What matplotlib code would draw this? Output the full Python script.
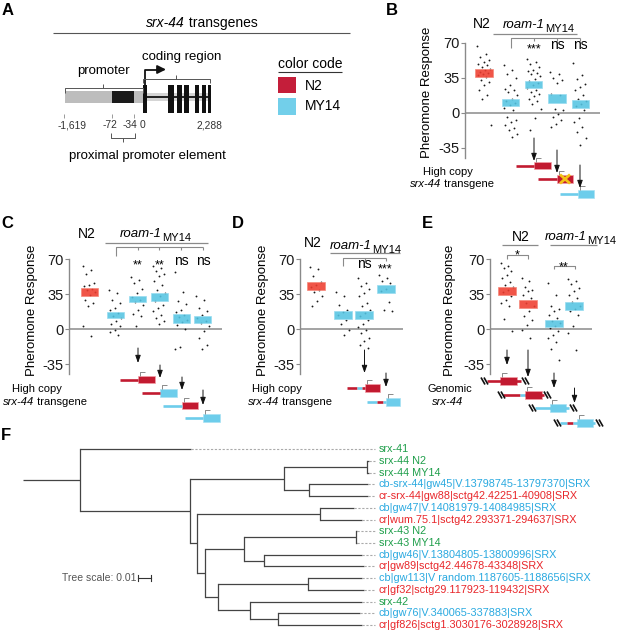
import matplotlib.pyplot as plt
from matplotlib.patches import Rectangle

plt.rcParams['font.family'] = ['Liberation Sans', 'DejaVu Sans']
plt.rcParams['axes.unicode_minus'] = False

# ---------------- data ----------------
# panel B
b_strains = ['N2', 'MY14', 'MY14', 'MY14', 'MY14']
b_means = [40, 10, 28, 14, 9]
b_sems = [4, 3.5, 3.3, 4.5, 4]
b_dots = [
    [67, 59, 56, 53, 51, 49, 48, 46, 44, 43, 41, 40, 39, 38, 36, 33, 31, 28, 23, 18, 14, -12],
    [48, 43, 39, 35, 28, 24, 23, 21, 18, 14, 12, 10, 8, 5, 3, -4, -7, -9, -12, -15, -17, -21, -24],
    [54, 51, 49, 46, 43, 42, 40, 39, 37, 34, 32, 30, 28, 25, 23, 21, 19, 17, 14, 12, 9, 4, -5, -17],
    [41, 39, 35, 33, 30, 19, 18, 4, 3, -1, -4, -7, -11, -14],
    [50, 38, 34, 29, 26, 23, 18, 14, 12, 9, 7, 3, -5, -9, -14, -19, -25, -32],
]
b_sig = ['', '', '***', 'ns', 'ns']

# panel C
c_strains = ['N2', 'MY14', 'MY14', 'MY14', 'MY14', 'MY14']
c_means = [37, 14, 30, 32, 10.5, 10]
c_sems = [4, 3, 3, 4, 4.5, 3.5]
c_dots = [
    [63, 59, 55, 46, 44, 43, 40, 39, 37, 34, 29, 26, 23, 3, -7],
    [39, 36, 29, 26, 21, 19, 16, 13, 11, 8, 5, 3, -1, -3, -6],
    [52, 49, 46, 40, 36, 32, 29, 27, 24, 19, 15, 13, 3],
    [63, 61, 58, 55, 53, 48, 44, 39, 36, 33, 28, 24, 21, 18, 14, 11, 8, 5],
    [57, 37, 28, 25, 19, 17, 14, 12, 9, 7, 4, 0, -18, -20],
    [33, 29, 21, 18, 14, 11, 8, 6, 3, -2, -9, -16, -20],
]
c_sig = ['', '', '**', '**', 'ns', 'ns']

# panel D
d_strains = ['N2', 'MY14', 'MY14', 'MY14']
d_means = [43, 14, 14, 40]
d_sems = [4, 4, 4, 4]
d_dots = [
    [62, 60, 53, 47, 44, 42, 39, 37, 33, 28, 23],
    [37, 33, 24, 19, 17, 14, 9, 5, -1, -6],
    [51, 46, 43, 40, 36, 33, 26, 23, 19, 16, 13, 9, 5, 2, -1, -4, -9, -12, -16, -19],
    [54, 51, 48, 46, 40, 38, 27, 19, 18],
]
d_sig = ['', '', 'ns', '***']

# panel E
e_strains = ['N2', 'N2', 'MY14', 'MY14']
e_means = [38, 25.5, 5.7, 23]
e_sems = [4, 4, 3.7, 4]
e_dots = [
    [66, 63, 61, 58, 54, 51, 47, 44, 42, 39, 37, 33, 29, 26, 23, 10, -2],
    [51, 48, 42, 39, 38, 34, 31, 26, 23, 18, 13, 9, 4, -1, -9],
    [46, 34, 23, 20, 18, 14, 11, 8, 6, 3, 1, -2, -6, -9, -13, -20, -31],
    [50, 48, 45, 41, 38, 34, 31, 27, 23, 20, 18, 14, 3, -4, -21],
]

# panel F tree (leaf ids in order, branch lengths in substitutions/site)
tree_newick = ("(0:0.0855,(((1:0.0012,2:0.0012):0.0640,(3:0.0452,4:0.0452):0.0194):0.0723,"
               "((5:0.0262,6:0.0323):0.0948,(((7:0.0009,8:0.0009):0.0862,(9:0.0754,10:0.0769):0.0154):0.0298,"
               "((11:0.0415,12:0.0431):0.0692,(13:0.0862,(14:0.0631,15:0.0646):0.0215):0.0246):0.0098)"
               ":0.0065):0.0052):0.0846):0.0437")
leaf_labels = ['srx-41', 'srx-44 N2', 'srx-44 MY14',
               'cb-srx-44|gw45|V.13798745-13797370|SRX', 'cr-srx-44|gw88|sctg42.42251-40908|SRX',
               'cb|gw47|V.14081979-14084985|SRX', 'cr|wum.75.1|sctg42.293371-294637|SRX',
               'srx-43 N2', 'srx-43 MY14',
               'cb|gw46|V.13804805-13800996|SRX', 'cr|gw89|sctg42.44678-43348|SRX',
               'cb|gw113|V random.1187605-1188656|SRX', 'cr|gf32|sctg29.117923-119432|SRX',
               'srx-42', 'cb|gw76|V.340065-337883|SRX', 'cr|gf826|sctg1.3030176-3028928|SRX']
leaf_species = ['ce', 'ce', 'ce', 'cb', 'cr', 'cb', 'cr', 'ce', 'ce', 'cb', 'cr', 'cb', 'cr', 'ce', 'cb', 'cr']

# ---------------- style ----------------
W, H = 617, 634
RED, CYAN = '#EE3D2F', '#55C4E2'
DRED, DCYAN = '#C21A30', '#6DCDEB'
GRAY = '#8a8a8a'
SPECIES_COL = {'ce': '#1E9E4A', 'cb': '#29A9E0', 'cr': '#E8262A'}

fig = plt.figure(figsize=(W / 100, H / 100), dpi=100)
ax0 = fig.add_axes([0, 0, 1, 1])
ax0.set_xlim(0, W)
ax0.set_ylim(H, 0)
ax0.set_axis_off()


def t(x, y, s, size=10, ha='center', va='baseline', **kw):
    ax0.text(x, y, s, fontsize=size, ha=ha, va=va, **kw)


def line(xs, ys, color='#666', lw=0.8, **kw):
    ax0.plot(xs, ys, color=color, lw=lw, solid_capstyle='butt', **kw)


def rect(x0, y0, x1, y1, color, **kw):
    ax0.add_patch(Rectangle((x0, y0), x1 - x0, y1 - y0, fc=color, ec='none', **kw))


def ital(x, y, it, rest, size):
    t(x, y, it, size, ha='right', style='italic')
    t(x, y, rest, size, ha='left')


def roam(x, y):
    t(x, y, 'roam-1', 9.5, ha='left', style='italic')
    t(x + 42, y + 4, 'MY14', 8, ha='left')


def down_arrow(x, y0, y1):
    ax0.annotate('', xy=(x, y1), xytext=(x, y0),
                 arrowprops=dict(arrowstyle='-|>,head_length=0.45,head_width=0.16',
                                 color='#111', lw=0.7, shrinkA=0, shrinkB=0))


def construct(y, segs, box, hashes=(), cross=False):
    for x0, x1, c in segs:
        line([x0, x1], [y, y], color=c, lw=1.9)
    bx0, bx1, bc = box
    ax0.add_patch(Rectangle((bx0, y - 3.6), bx1 - bx0, 7.2, fc=bc, ec='#f3a0a8' if bc == DRED else '#a9e2f3', lw=0.5))
    line([bx0 + 1.5, bx0 + 1.5, bx0 + 6.5], [y - 3.6, y - 8, y - 8], color='#777', lw=0.6)
    for hx in hashes:
        for k in (0, 3):
            line([hx + k - 2, hx + k + 2], [y - 3.5, y + 3.5], color='#111', lw=1.2)
    if cross:
        cx = (bx0 + bx1) / 2
        line([cx - 5, cx + 5], [y - 4.5, y + 4.5], color='#F3C316', lw=2)
        line([cx - 5, cx + 5], [y + 4.5, y - 4.5], color='#F3C316', lw=2)


def scatter_panel(spine, end, y70, c0, sp, pos, box_w, means, sems, strains, dots):
    ylo, yhi = -50, 74
    top = y70 - (yhi - 70)
    bot = y70 + (70 - ylo)
    ax = fig.add_axes([spine / W, 1 - bot / H, (end - spine) / W, (bot - top) / H])
    ax.set_xlim((spine - c0) / sp, (end - c0) / sp)
    ax.set_ylim(ylo, yhi)
    ax.patch.set_alpha(0)
    for s in ['top', 'right', 'bottom']:
        ax.spines[s].set_visible(False)
    ax.spines['left'].set_bounds(-45, 70)
    ax.spines['left'].set_color(GRAY)
    ax.spines['left'].set_linewidth(1.0)
    ax.set_xticks([])
    ax.set_yticks([-35, 0, 35, 70])
    ax.tick_params(axis='y', length=3, width=0.8, color=GRAY, labelsize=10.5, pad=1, labelcolor='#1a1a1a')
    ax.axhline(0, color=GRAY, lw=1.1, zorder=1)
    for p, m, e, st, d in zip(pos, means, sems, strains, dots):
        xs = [p + ((i * 0.618034) % 1 - 0.5) * 0.6 for i in range(len(d))]
        ax.scatter(xs, d, s=1.8, color='#1a1a1a', lw=0, zorder=2)
        c = RED if st == 'N2' else CYAN
        ec = '#f58a7c' if st == 'N2' else '#9adcf0'
        ax.add_patch(Rectangle((p - box_w / 2, m - e), box_w, 2 * e, fc=c, ec=ec, lw=0.6, alpha=0.88, zorder=3))
    return ax


# ---------------- panel A ----------------
t(2, 15, 'A', 12, ha='left', weight='bold')
ital(185, 27, 'srx-44', ' transgenes', 10)
line([53, 350], [33, 33], color='#555', lw=0.8)
rect(65, 91, 143, 103, '#BDBDBD')
rect(112, 91, 134, 103, '#1a1a1a')
rect(146, 93, 211, 101, '#D5D5D5')
line([146, 211], [97, 97], color='#111', lw=1.3)
rect(143, 85, 146.5, 113, '#111')
for x0, x1 in [(168, 174), (177, 182), (184, 189), (195, 199), (202, 205.5), (207.5, 211)]:
    rect(x0, 85, x1, 113, '#111')
line([144.7, 144.7, 158], [85, 69.5, 69.5], color='#111', lw=1.3)
ax0.annotate('', xy=(166, 69.5), xytext=(157, 69.5),
             arrowprops=dict(arrowstyle='-|>,head_length=0.5,head_width=0.25', color='#111', lw=1.3,
                             shrinkA=0, shrinkB=0))
line([65, 65, 143, 143], [93, 88, 88, 93], color='#555', lw=0.7)
line([103, 103], [88, 84], color='#555', lw=0.7)
t(103, 74, 'promoter', 9.5)
line([143, 143, 210, 210], [83, 79, 79, 83], color='#555', lw=0.7)
line([176, 176], [79, 75], color='#555', lw=0.7)
t(182, 60, 'coding region', 9.5)
for x in (64, 112, 134):
    line([x, x], [114, 118], color='#999', lw=0.7)
for x, s in [(72, '-1,619'), (110, '-72'), (130, '-34'), (143, '0'), (209, '2,288')]:
    t(x, 128, s, 7.4, color='#333')
line([111, 111, 135, 135], [133, 138, 138, 133], color='#555', lw=0.7)
line([123, 123], [138, 142], color='#555', lw=0.7)
t(147, 159, 'proximal promoter element', 9.5)
t(278, 68, 'color code', 10, ha='left')
line([278, 342], [72, 72], color='#333', lw=0.8)
rect(278, 77, 296, 93, '#C41E3A')
rect(278, 98, 296, 115, '#72CFEA')
t(305, 89.5, 'N2', 10, ha='left')
t(305, 110.5, 'MY14', 10, ha='left')

# ---------------- panel B ----------------
t(386, 15, 'B', 12, ha='left', weight='bold')
b_pos = [0, 1.15, 2.15, 3.15, 4.15]
scatter_panel(465, 600, 42.7, 484, 23.2, b_pos, 0.74, b_means, b_sems, b_strains, b_dots)
t(427, 92, 'Pheromone Response', 9.5, va='center', rotation=90)
t(482, 28, 'N2', 10)
roam(503, 28)
line([493, 577], [34, 34], color=GRAY, lw=0.9)
line([511, 511, 580], [48, 38, 38], color=GRAY, lw=0.8)
for x in (534, 557, 580):
    line([x, x], [38, 41], color=GRAY, lw=0.8)
for x, s in zip([484, 511, 534, 557, 580], b_sig):
    if s:
        t(x, 52 if '*' in s else 49, s, 9 if '*' in s else 10)
t(448, 175, 'High copy', 8)
ital(441, 187, 'srx-44', ' transgene', 8)
down_arrow(534, 138, 161)
down_arrow(557, 150, 173)
down_arrow(580, 165, 188)
construct(165.5, [(516, 534, DRED)], (534, 551, DRED))
construct(179, [(538, 557, DRED)], (557, 573, DRED), cross=True)
construct(194, [(560, 578, DCYAN)], (578, 594, DCYAN))

# ---------------- panel C ----------------
t(1, 228, 'C', 12, ha='left', weight='bold')
c_pos = [0, 1.2, 2.2, 3.2, 4.2, 5.2]
scatter_panel(69.3, 222, 259.3, 89.5, 21.8, c_pos, 0.78, c_means, c_sems, c_strains, c_dots)
t(32, 310, 'Pheromone Response', 9.5, va='center', rotation=90)
t(87, 238, 'N2', 10)
roam(120, 237)
line([105, 208], [243, 243], color=GRAY, lw=0.9)
line([115.7, 115.7, 203], [256, 247, 247], color=GRAY, lw=0.8)
for x in (137.5, 159.3, 181, 203):
    line([x, x], [247, 250], color=GRAY, lw=0.8)
for x, s in zip([89.5, 115.7, 137.5, 159.3, 181, 203], c_sig):
    if s:
        t(x, 268 if '*' in s else 265, s, 9 if '*' in s else 10)
t(37, 392, 'High copy', 8)
ital(34, 405, 'srx-44', ' transgene', 8)
down_arrow(138, 348, 363)
down_arrow(160, 365, 378)
down_arrow(182, 377, 390)
down_arrow(203, 390, 405)
construct(379.5, [(120, 138, DRED)], (138, 155, DRED))
construct(393, [(142, 160, DRED)], (160, 177, DCYAN))
construct(405.5, [(163, 182, DCYAN)], (182, 198, DRED))
construct(418, [(185, 203, DCYAN)], (203, 220, DCYAN))

# ---------------- panel D ----------------
t(232, 228, 'D', 12, ha='left', weight='bold')
d_pos = [0, 1.25, 2.25, 3.25]
scatter_panel(300, 403, 259.3, 316, 21.5, d_pos, 0.84, d_means, d_sems, d_strains, d_dots)
t(263, 310, 'Pheromone Response', 9.5, va='center', rotation=90)
t(313, 247, 'N2', 10)
roam(330, 249)
line([330, 400], [253, 253], color=GRAY, lw=0.9)
line([343, 343, 385.5], [266, 258, 258], color=GRAY, lw=0.8)
for x in (364.5, 385.5):
    line([x, x], [258, 261], color=GRAY, lw=0.8)
for x, s in zip([316, 343, 364.5, 385.5], d_sig):
    if s:
        t(x, 272 if '*' in s else 268, s, 9 if '*' in s else 10)
t(277, 392, 'High copy', 8)
ital(279, 405, 'srx-44', ' transgene', 8)
down_arrow(364.5, 350, 373)
down_arrow(386, 373, 387)
construct(388, [(347, 357, DRED), (357, 362, DCYAN), (362, 365, DRED)], (365, 380, DRED))
construct(402, [(367, 377, DCYAN), (377, 383, DRED), (383, 386, DCYAN)], (386, 400, DCYAN))

# ---------------- panel E ----------------
t(422, 228, 'E', 12, ha='left', weight='bold')
e_pos = [0, 1, 2.25, 3.2]
scatter_panel(490, 592, 259.3, 507, 21, e_pos, 0.86, e_means, e_sems, e_strains, e_dots)
t(450, 310, 'Pheromone Response', 9.5, va='center', rotation=90)
t(521, 241, 'N2', 10)
line([502, 538], [245, 245], color=GRAY, lw=0.9)
roam(545, 240)
line([550, 597], [245, 245], color=GRAY, lw=0.9)
line([507, 507, 528, 528], [259, 255, 255, 259], color=GRAY, lw=0.8)
t(517.5, 258, '*', 9)
line([554, 554, 574.5, 574.5], [269, 266, 266, 269], color=GRAY, lw=0.8)
t(564, 270, '**', 9)
t(450, 392, 'Genomic', 8)
t(448, 405, 'srx-44', 8, style='italic')
down_arrow(507, 350, 365)
down_arrow(528, 350, 377)
down_arrow(554, 373, 388)
down_arrow(574.5, 388, 403)
construct(381, [(487, 521, DRED)], (500, 517, DRED), hashes=(483, 524))
construct(395, [(503, 520, DRED), (520, 525, DCYAN), (525, 544, DRED)], (525, 542, DRED), hashes=(500, 546))
construct(408, [(535, 569, DCYAN)], (550, 566, DCYAN), hashes=(531, 572))
construct(423, [(560, 567, DCYAN), (567, 573, DRED), (573, 595, DCYAN)], (577, 593, DCYAN), hashes=(556, 598))

# ---------------- panel F ----------------
t(1, 440, 'F', 12, ha='left', weight='bold')


def parse(s):
    i = 0

    def node():
        nonlocal i
        n = {'kids': [], 'len': 0.0, 'leaf': None}
        if s[i] == '(':
            i += 1
            n['kids'].append(node())
            while s[i] == ',':
                i += 1
                n['kids'].append(node())
            i += 1
        else:
            j = i
            while s[i] not in ':,)':
                i += 1
            n['leaf'] = int(s[j:i])
        if i < len(s) and s[i] == ':':
            i += 1
            j = i
            while i < len(s) and s[i] not in ',)':
                i += 1
            n['len'] = float(s[j:i])
        return n
    return node()


def layout(n, x0):
    n['x0'] = x0
    n['x'] = x0 + n['len']
    if n['leaf'] is not None:
        n['y'] = n['leaf']
    else:
        for k in n['kids']:
            layout(k, n['x'])
        n['y'] = (n['kids'][0]['y'] + n['kids'][-1]['y']) / 2


root = parse(tree_newick)
layout(root, 0.0)

px_per_unit = 1300.0
x_root_px = 23.2
leaf0_px, leaf_step = 449.3, 11.71
y_top = leaf0_px - leaf_step / 2
y_bot = leaf0_px + leaf_step * (len(leaf_labels) - 0.5)
axt = fig.add_axes([0, 1 - y_bot / H, 1, (y_bot - y_top) / H])
axt.set_xlim(-x_root_px / px_per_unit, (W - x_root_px) / px_per_unit)
axt.set_ylim(len(leaf_labels) - 0.5, -0.5)
axt.set_axis_off()

leaves = []


def draw(n):
    axt.plot([n['x0'], n['x']], [n['y'], n['y']], color='#444', lw=0.9, solid_capstyle='butt')
    if n['leaf'] is not None:
        leaves.append(n)
    else:
        axt.plot([n['x'], n['x']], [n['kids'][0]['y'], n['kids'][-1]['y']], color='#444', lw=0.9)
        for k in n['kids']:
            draw(k)


draw(root)
dash_end = max(n['x'] for n in leaves) + 0.0046
for n in leaves:
    axt.plot([n['x'], dash_end], [n['y'], n['y']], color='#aaa', lw=0.8, ls=(0, (2, 1.5)))
    axt.text(dash_end + 0.003, n['y'], leaf_labels[n['leaf']], fontsize=7.8, va='center', ha='left',
             color=SPECIES_COL[leaf_species[n['leaf']]])

sb_x, sb_y = 0.0883, 11.0
axt.plot([sb_x, sb_x + 0.01], [sb_y, sb_y], color='#333', lw=0.8)
axt.plot([sb_x, sb_x], [sb_y - 0.25, sb_y + 0.25], color='#333', lw=0.8)
axt.plot([sb_x + 0.01, sb_x + 0.01], [sb_y - 0.25, sb_y + 0.25], color='#333', lw=0.8)
axt.text(sb_x - 0.0015, sb_y, 'Tree scale: 0.01', fontsize=7.5, color='#555', ha='right', va='center')

fig.savefig('out.png', dpi=100)
